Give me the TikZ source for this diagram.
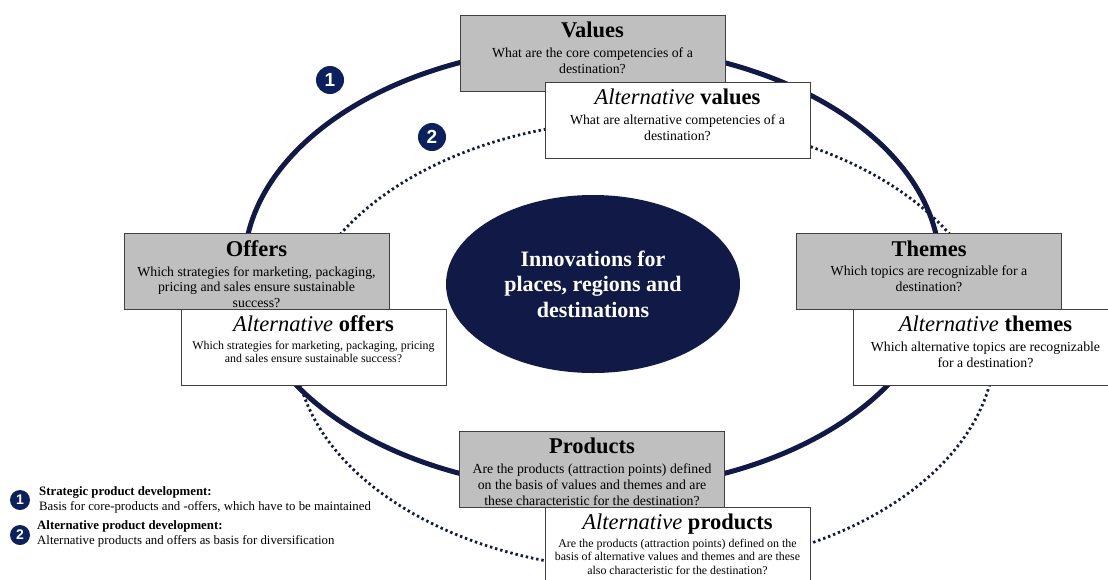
\documentclass[tikz,border=0pt]{standalone}
\usepackage{fontspec}
\setmainfont{Liberation Serif}
\setsansfont{Liberation Sans}
\usetikzlibrary{shapes.geometric}

\definecolor{navy}{HTML}{111A46}
\definecolor{marknavy}{HTML}{0B215E}
\definecolor{coregray}{HTML}{BFBFBF}
\definecolor{boxline}{HTML}{404040}

\newcommand{\bodyfont}{\fontsize{13.8}{15.8}\selectfont}
\newcommand{\smallbody}{\fontsize{11.9}{13.5}\selectfont}
\newcommand{\titlefont}{\fontsize{22.5}{24}\selectfont\bfseries}
\newcommand{\boxtext}[3]{\begin{minipage}[c][72pt][t]{262pt}\centering
  \vspace{5pt}{\titlefont #2}\par\vspace{4pt}{#1 #3\par}\end{minipage}}
\newcommand{\alttitle}[1]{{\mdseries\itshape Alternative} #1}

\tikzset{
  corebox/.style={draw=boxline, fill=coregray, line width=0.8pt, inner sep=0pt,
    minimum width=265pt, minimum height=76pt},
  altbox/.style={corebox, fill=white},
  marker/.style={circle, fill=marknavy, text=white, inner sep=0pt,
    font=\sffamily\bfseries},
}

\begin{document}
\begin{tikzpicture}[x=1pt, y=-1pt]
    \useasboundingbox (0,0) rectangle (1108,579);

    % the two cycles
    \draw[navy, line width=2.8pt, dash pattern=on 2.4pt off 2.9pt]
        (645,345) ellipse [x radius=350pt, y radius=225pt];
    \draw[navy, line width=5pt] (592,268) ellipse [x radius=348pt, y radius=222pt];

    \node[ellipse, fill=navy, text=white, minimum width=294pt, minimum height=178pt,
        align=center, font=\fontsize{22}{25.5}\selectfont\bfseries] (centre) at (593,284)
        {Innovations for\\places, regions and\\destinations};

    % core boxes and alternative boxes
    \node[corebox] (values) at (592.5,53)
        {\boxtext{\bodyfont}{Values}{What are the core competencies of a\\destination?}};
    \node[altbox] (altvalues) at (677.5,120)
        {\boxtext{\bodyfont}{\alttitle{values}}{What are alternative competencies of a\\destination?}};

    \node[corebox] (offers) at (256.5,271.5)
        {\boxtext{\bodyfont}{Offers}{Which strategies for marketing, packaging,\\pricing and sales ensure sustainable\\success?}};
    \node[altbox] (altoffers) at (313.5,347)
        {\boxtext{\smallbody}{\alttitle{offers}}{Which strategies for marketing, packaging, pricing\\and sales ensure sustainable success?}};

    \node[corebox] (themes) at (929,271.5)
        {\boxtext{\bodyfont}{Themes}{Which topics are recognizable for a\\destination?}};
    \node[altbox] (altthemes) at (985.5,347)
        {\boxtext{\bodyfont}{\alttitle{themes}}{Which alternative topics are recognizable\\for a destination?}};

    \node[corebox] (products) at (592,469)
        {\boxtext{\bodyfont}{Products}{Are the products (attraction points) defined\\on the basis of values and themes and are\\these characteristic for the destination?}};
    \node[altbox] (altproducts) at (677.5,545)
        {\boxtext{\smallbody}{\alttitle{products}}{Are the products (attraction points) defined on the\\basis of alternative values and themes and are these\\also characteristic for the destination?}};

    % numbers on the cycles
    \node[marker, minimum size=28pt, font=\sffamily\bfseries\fontsize{19}{19}\selectfont] (one) at (330,80) {1};
    \node[marker, minimum size=28pt, font=\sffamily\bfseries\fontsize{19}{19}\selectfont] (two) at (432,137) {2};

    % legend
    \node[marker, minimum size=20pt, font=\sffamily\bfseries\fontsize{14}{14}\selectfont] (keyone) at (20,500) {1};
    \node[marker, minimum size=20pt, font=\sffamily\bfseries\fontsize{14}{14}\selectfont] (keytwo) at (20,535) {2};
    \node[anchor=west, align=left, inner sep=0pt, font=\fontsize{12.8}{14.5}\selectfont] (keyonetext) at (39,500)
        {\textbf{Strategic product development:}\\Basis for core-products and -offers, which have to be maintained};
    \node[anchor=west, align=left, inner sep=0pt, font=\fontsize{12.8}{14.5}\selectfont] (keytwotext) at (37,534)
        {\textbf{Alternative product development:}\\Alternative products and offers as basis for diversification};
\end{tikzpicture}
\end{document}
